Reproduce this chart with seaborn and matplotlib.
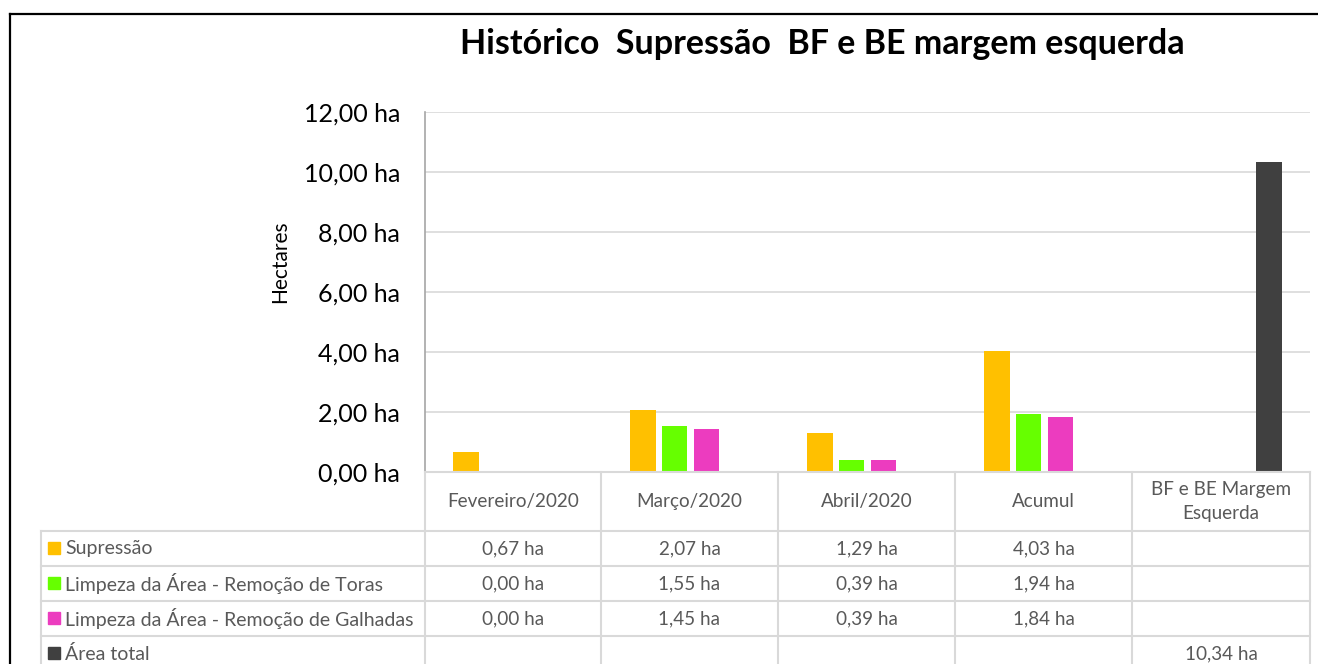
import matplotlib.pyplot as plt
import seaborn as sns
import pandas as pd
import numpy as np
from matplotlib.lines import Line2D
from matplotlib.patches import Rectangle

categorias = ['Fevereiro/2020', 'Março/2020', 'Abril/2020', 'Acumul', 'BF e BE Margem\nEsquerda']
series = ['Supressão', 'Limpeza da Área - Remoção de Toras',
          'Limpeza da Área - Remoção de Galhadas', 'Área total']
supressao = [0.67, 2.07, 1.29, 4.03, None]
toras = [0.00, 1.55, 0.39, 1.94, None]
galhadas = [0.00, 1.45, 0.39, 1.84, None]
area_total = [None, None, None, None, 10.34]
cores = ['#FFC000', '#66FF00', '#EC3CBF', '#404040']

valores = [supressao, toras, galhadas, area_total]
linhas = []
for s, vals in zip(series, valores):
    for c, v in zip(categorias, vals):
        linhas.append({'categoria': c, 'serie': s, 'valor': v})
df = pd.DataFrame(linhas)
df_plot = df.dropna(subset=['valor'])

W, H = 1318, 664
fig = plt.figure(figsize=(W / 100, H / 100), dpi=100)
plt.rcParams['font.family'] = ['Lato', 'DejaVu Sans']

def fx(x):
    return x / W

def fy(y):
    return 1 - y / H

ax = fig.add_axes([fx(425), fy(472), fx(1310) - fx(425), fy(112) - fy(472)])
sns.barplot(data=df_plot, x='categoria', y='valor', hue='serie', order=categorias,
            hue_order=series, palette=cores, width=0.72, gap=0.19, saturation=1,
            legend=False, ax=ax)

ax.set_xlim(-0.5, len(categorias) - 0.5)
ax.set_ylim(0, 12)
ax.set_yticks(np.arange(0, 13, 2))
ax.set_yticklabels([f'{v:.2f} ha'.replace('.', ',') for v in np.arange(0, 13, 2)],
                   fontsize=18, color='black')
ax.tick_params(axis='y', length=0, pad=18)
ax.set_xticks([])
ax.set_xlabel('')
ax.set_ylabel('')
ax.grid(axis='y', color='#D9D9D9', linewidth=1.2)
ax.set_axisbelow(True)
for side in ['top', 'right', 'bottom']:
    ax.spines[side].set_visible(False)
ax.spines['left'].set_color('#A6A6A6')
ax.spines['left'].set_linewidth(1.2)

fig.text(fx(280), fy(262), 'Hectares', rotation=90, ha='center', va='center', fontsize=15)
fig.text(fx(822), fy(44), 'Histórico  Supressão  BF e BE margem esquerda',
         ha='center', va='center', fontsize=24.5, fontweight='bold')

# moldura
fig.add_artist(Line2D([fx(10), fx(10)], [fy(14), 0], color='black', linewidth=1.6))
fig.add_artist(Line2D([fx(10), 1], [fy(14), fy(14)], color='black', linewidth=1.6))

# tabela de dados
gcol = '#D9D9D9'
tcol = '#595959'
col_x = [425, 601, 778, 955, 1132, 1310]
row_y = [472, 531, 566, 601, 636, 671]
lw = 1.5
fig.add_artist(Line2D([fx(425), fx(1310)], [fy(472), fy(472)], color=gcol, linewidth=lw))
for y in row_y[1:]:
    fig.add_artist(Line2D([fx(41), fx(1310)], [fy(y), fy(y)], color=gcol, linewidth=lw))
for x in col_x:
    fig.add_artist(Line2D([fx(x), fx(x)], [fy(472), 0], color=gcol, linewidth=lw))
fig.add_artist(Line2D([fx(41), fx(41)], [fy(531), 0], color=gcol, linewidth=lw))

for i, c in enumerate(categorias):
    xc = (col_x[i] + col_x[i + 1]) / 2
    fig.text(fx(xc), fy((row_y[0] + row_y[1]) / 2), c, ha='center', va='center',
             fontsize=13.6, color=tcol, linespacing=1.55)

for r, (s, vals, cor) in enumerate(zip(series, valores, cores)):
    yc = (row_y[r + 1] + row_y[r + 2]) / 2
    fig.add_artist(Rectangle((fx(48), fy(yc + 5)), fx(12), fy(yc - 7) - fy(yc + 5),
                             color=cor, transform=fig.transFigure))
    fig.text(fx(65), fy(yc), s, ha='left', va='center', fontsize=14, color=tcol)
    for i, v in enumerate(vals):
        if v is None:
            continue
        xc = (col_x[i] + col_x[i + 1]) / 2
        fig.text(fx(xc), fy(yc), f'{v:.2f} ha'.replace('.', ','), ha='center',
                 va='center', fontsize=13.6, color=tcol)

fig.savefig('out.png', dpi=100)
